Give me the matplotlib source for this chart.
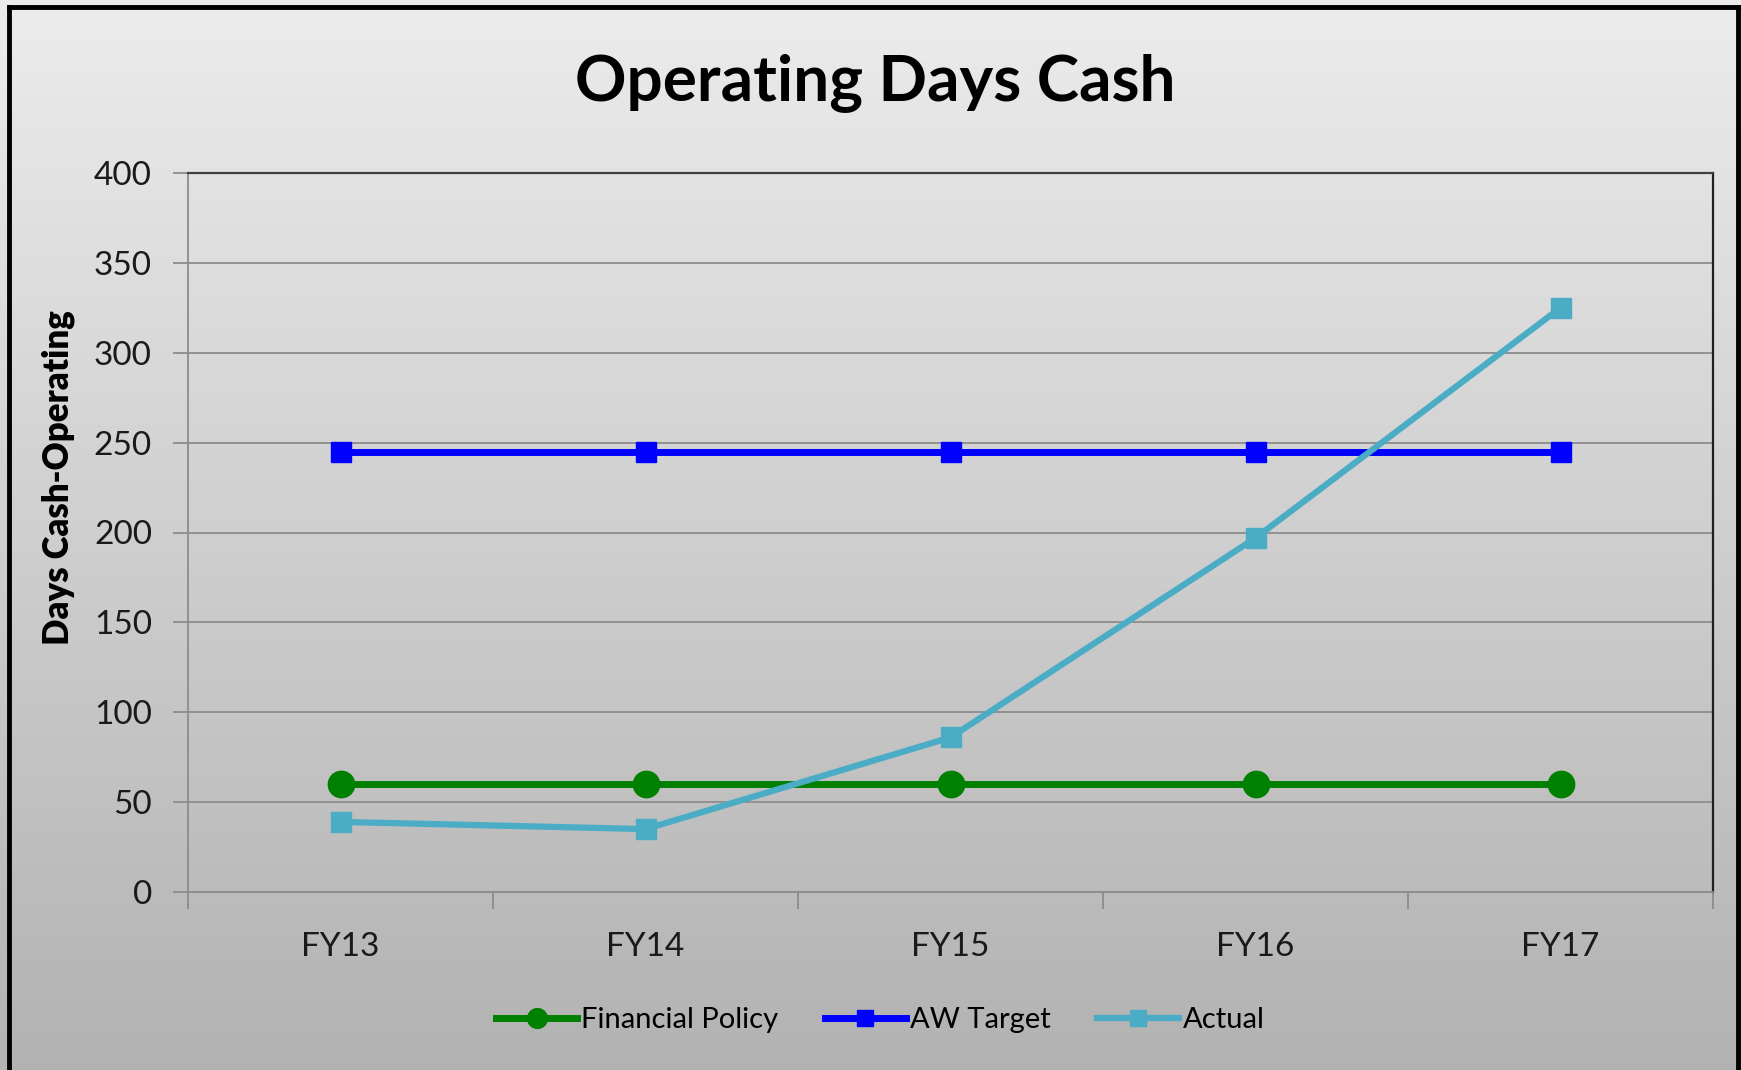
import numpy as np
import matplotlib
matplotlib.use('Agg')
from matplotlib import pyplot as plt

# data
years = ['FY13', 'FY14', 'FY15', 'FY16', 'FY17']
financial_policy = [60, 60, 60, 60, 60]
aw_target = [245, 245, 245, 245, 245]
actual = [39, 35, 86, 197, 325]

plt.rcParams['font.family'] = ['Lato', 'DejaVu Sans']

W, H = 1741, 1070
fig = plt.figure(figsize=(W/100, H/100), dpi=100)

# grey gradient background
bg = fig.add_axes([0, 0, 1, 1], zorder=-10)
grad = np.linspace(236, 178, 256).reshape(-1, 1) / 255.
bg.imshow(np.dstack([grad, grad, grad]), aspect='auto', extent=[0, 1, 0, 1])
bg.set_xlim(0, 1)
bg.set_ylim(0, 1)
bg.axis('off')

# outer black frame (bottom is cut off in the original)
fig.add_artist(plt.Line2D([9/W, 9/W], [0, 1 - 7/H], color='black', lw=3.5, transform=fig.transFigure))
fig.add_artist(plt.Line2D([9/W, 1738/W], [1 - 7/H, 1 - 7/H], color='black', lw=3.5, transform=fig.transFigure))
fig.add_artist(plt.Line2D([1738/W, 1738/W], [0, 1 - 7/H], color='black', lw=3.5, transform=fig.transFigure))

ax = fig.add_axes([188/W, 178/H, (1713-188)/W, (892-173)/H])
ax.set_facecolor('none')

x = np.arange(len(years))
ax.plot(x, financial_policy, color='#008000', lw=5, marker='o', ms=19, label='Financial Policy', zorder=3)
ax.plot(x, aw_target, color='#0000FF', lw=5, marker='s', ms=15, label='AW Target', zorder=3)
ax.plot(x, actual, color='#4BACC6', lw=4.5, marker='s', ms=15, label='Actual', zorder=4)

ax.set_xlim(-0.5, 4.5)
ax.set_ylim(0, 400)
ax.set_yticks(range(0, 401, 50))
ax.yaxis.grid(True, color='#8c8c8c', lw=1.3)
ax.set_axisbelow(True)

ax.set_xticks(x)
ax.set_xticklabels(years)
ax.set_xticks(np.arange(-0.5, 5, 1), minor=True)
ax.tick_params(axis='x', which='major', length=0, pad=29, labelsize=24, labelcolor='#1a1a1a')
ax.tick_params(axis='x', which='minor', length=12, width=1.3, color='#8c8c8c')
ax.tick_params(axis='y', length=11, width=1.3, color='#8c8c8c', pad=15, labelsize=24, labelcolor='#1a1a1a')

ax.spines['left'].set_color('#8c8c8c')
ax.spines['bottom'].set_color('#8c8c8c')
ax.spines['left'].set_linewidth(1.3)
ax.spines['bottom'].set_linewidth(1.3)
ax.spines['top'].set_color('#404040')
ax.spines['right'].set_color('#202020')
ax.spines['top'].set_linewidth(1.6)
ax.spines['right'].set_linewidth(1.6)

fig.text(875/W, 1 - 83/H, 'Operating Days Cash', ha='center', va='center',
         fontsize=46, fontweight='bold', color='black')
fig.text(58/W, 1 - 478/H, 'Days Cash-Operating', ha='center', va='center',
         rotation=90, fontsize=25, fontweight='heavy', color='black')

fig.legend(loc='center', bbox_to_anchor=(880/W, 1 - 1020/H), ncol=3, frameon=False,
           fontsize=21, handlelength=2.8, handletextpad=0.12, columnspacing=1.6, markerscale=0.75)

fig.savefig('out.png', dpi=100)
